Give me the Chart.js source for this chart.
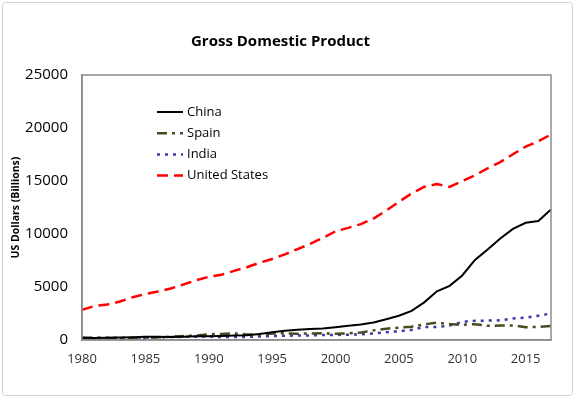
<!DOCTYPE html>
<html><head><meta charset="utf-8">
<script src="https://cdn.jsdelivr.net/npm/chart.js@4/dist/chart.umd.min.js"></script>
<style>html,body{margin:0;padding:0;background:#fff}#wrap{width:576px;height:399px}</style>
</head><body><div id="wrap"><canvas id="c" width="576" height="399"></canvas></div>
<script>
const years = [1980,1981,1982,1983,1984,1985,1986,1987,1988,1989,1990,1991,1992,1993,1994,1995,1996,1997,1998,1999,2000,2001,2002,2003,2004,2005,2006,2007,2008,2009,2010,2011,2012,2013,2014,2015,2016,2017];
const china = [191,196,205,230,260,309,301,273,312,348,361,383,427,445,564,734,864,962,1029,1094,1211,1339,1471,1660,1955,2286,2752,3552,4598,5110,6087,7552,8532,9570,10476,11062,11233,12310];
const spain = [232,203,199,172,174,181,250,318,376,413,535,576,630,525,529,612,640,589,619,635,598,628,708,907,1069,1157,1260,1474,1635,1499,1432,1489,1336,1362,1379,1199,1237,1312];
const india = [189,197,204,222,215,237,253,283,300,301,327,274,293,284,333,367,400,423,429,467,477,494,524,618,722,834,949,1238,1224,1365,1708,1823,1828,1857,2039,2104,2295,2500];
const usa = [2857,3207,3343,3634,4037,4339,4580,4855,5236,5641,5963,6158,6520,6859,7287,7639,8073,8577,9062,9631,10252,10582,10936,11458,12214,13037,13815,14452,14713,14449,14992,15543,16197,16785,17527,18238,18745,19390];
const seriesNames = ['China','Spain','India','United States'];
const xTicks = [1980,1985,1990,1995,2000,2005,2010,2015];
const yTicks = [0,5000,10000,15000,20000,25000];

const FONT = "'Open Sans', 'Noto Sans', sans-serif";
const toXY = arr => arr.map((v,i)=>({x:years[i], y:v}));

const frame = {
  id:'frame',
  beforeDraw(chart){
    const ctx = chart.ctx;
    ctx.save();
    ctx.strokeStyle = '#d0d0d0'; ctx.lineWidth = 1;
    ctx.beginPath();
    if (ctx.roundRect) ctx.roundRect(2.5,2.5,570,393,3); else ctx.rect(2.5,2.5,570,393);
    ctx.stroke();
    ctx.restore();
  },
  afterDatasetsDraw(chart){
    const a = chart.chartArea, ctx = chart.ctx;
    ctx.save();
    ctx.strokeStyle = '#8c8c8c'; ctx.lineWidth = 1.5;
    ctx.strokeRect(a.left, a.top, a.right-a.left, a.bottom-a.top);
    ctx.font = "13px " + FONT;
    ctx.textBaseline = 'middle';
    chart.data.datasets.forEach((ds,i)=>{
      const y = a.top + 37 + i*21.2;
      const x0 = a.left + 75;
      ctx.strokeStyle = ds.borderColor; ctx.lineWidth = ds.borderWidth;
      ctx.setLineDash(ds.borderDash || []);
      ctx.beginPath(); ctx.moveTo(x0, y); ctx.lineTo(x0+26, y); ctx.stroke();
      ctx.setLineDash([]);
      ctx.fillStyle = '#000';
      ctx.fillText(ds.label, x0+30, y);
    });
    ctx.restore();
  }
};

new Chart(document.getElementById('c'), {
  type:'line',
  data:{ datasets:[
    {label:seriesNames[0], data:toXY(china), borderColor:'#000000', borderWidth:2, pointRadius:0, tension:0},
    {label:seriesNames[1], data:toXY(spain), borderColor:'#4a4a22', borderWidth:2.5, borderDash:[10,5,3,5], pointRadius:0},
    {label:seriesNames[2], data:toXY(india), borderColor:'#3a3aa8', borderWidth:2.5, borderDash:[3,5], pointRadius:0},
    {label:seriesNames[3], data:toXY(usa), borderColor:'#ff0000', borderWidth:2.5, borderDash:[11,6], pointRadius:0}
  ]},
  options:{
    responsive:false, animation:false,
    layout:{padding:{left:10,right:25,top:0,bottom:19}},
    plugins:{
      legend:{display:false}, tooltip:{enabled:false},
      title:{display:true, text:'Gross Domestic Product', color:'#000',
        font:{family:FONT, size:15, weight:'bold', lineHeight:1.2}, padding:{top:33,bottom:24}}
    },
    scales:{
      x:{type:'linear', min:1980, max:2017,
        afterBuildTicks(s){ s.ticks = xTicks.map(v=>({value:v})); },
        afterFit(s){ s.height = 40; },
        grid:{display:false, drawTicks:false},
        border:{display:true, color:'#8c8c8c', width:1.5},
        ticks:{padding:11, color:'#333', font:{family:FONT,size:13}, maxRotation:0, autoSkip:false, callback:v=>String(v)}
      },
      y:{min:0, max:25000,
        afterBuildTicks(s){ s.ticks = yTicks.map(v=>({value:v})); },
        afterFit(s){ s.width = 72; },
        grid:{display:false, drawTicks:false},
        border:{display:true, color:'#8c8c8c', width:1.5},
        ticks:{padding:14, color:'#000', font:{family:FONT,size:15}, callback:v=>String(v)},
        title:{display:true, text:'US Dollars (Billions)', color:'#000', font:{family:FONT,size:10.5,weight:'bold'}, padding:{top:0,bottom:0}}
      }
    }
  },
  plugins:[frame]
});
</script>
</body></html>
